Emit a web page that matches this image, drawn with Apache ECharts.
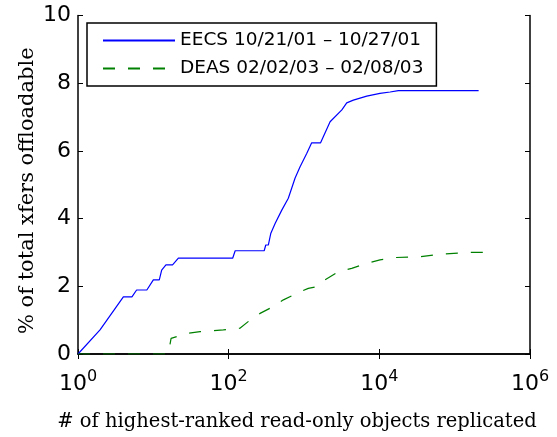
<!DOCTYPE html>
<html>
<head>
<meta charset="utf-8">
<script src="https://cdn.jsdelivr.net/npm/echarts@6/dist/echarts.min.js"></script>
<style>
  html, body { margin: 0; padding: 0; background: #fff; }
  #chart { width: 557px; height: 437px; }
</style>
</head>
<body>
<div id="chart"></div>
<script>
// EECS trace, objects replicated vs % of xfers offloadable
var eecsX = [1, 1.96, 4, 5.2, 6, 8.2, 10, 12, 12.9, 14.7, 18, 21.5, 113, 122, 296, 311, 336, 363, 415, 507, 619, 762, 887, 1090, 1265, 1660, 2220, 3180, 3690, 4520, 6800, 10200, 13900, 17900, 208000];
var eecsY = [0, 0.71, 1.69, 1.69, 1.89, 1.89, 2.19, 2.19, 2.48, 2.63, 2.63, 2.83, 2.83, 3.05, 3.05, 3.22, 3.22, 3.57, 3.86, 4.25, 4.6, 5.2, 5.53, 5.93, 6.24, 6.24, 6.86, 7.21, 7.42, 7.50, 7.62, 7.70, 7.74, 7.78, 7.78];

// DEAS trace
var deasX = [1, 10, 15.8, 17.2, 27.7, 41.7, 85, 141, 192, 261, 390, 533, 800, 1140, 1470, 1900, 2860, 4300, 6800, 10200, 16200, 34700, 58000, 145000, 347000];
var deasY = [0, 0, 0, 0.46, 0.61, 0.66, 0.71, 0.76, 1.0, 1.2, 1.4, 1.6, 1.79, 1.94, 1.99, 2.19, 2.43, 2.53, 2.68, 2.78, 2.85, 2.87, 2.94, 3.0, 3.0];

var seriesNames = ['EECS 10/21/01 \u2013 10/27/01', 'DEAS 02/02/03 \u2013 02/08/03'];

function zip(xs, ys) {
    return xs.map(function (x, i) { return [x, ys[i]]; });
}

var sans = 'DejaVu Sans';
var serif = 'DejaVu Serif';

var tickStyle = { inside: true, length: 5, lineStyle: { color: '#000', width: 1 } };
var lineStyle = { lineStyle: { color: '#000', width: 1.5 } };

var myChart = echarts.init(document.getElementById('chart'));
var option = {
    animation: false,
    backgroundColor: '#fff',
    grid: { left: 78, right: 27, top: 15.5, bottom: 83, outerBoundsMode: 'none', containLabel: false },
    legend: {
        orient: 'vertical',
        left: 87,
        top: 23,
        padding: [8, 13, 8, 15],
        itemGap: 9,
        itemWidth: 72,
        itemHeight: 14,
        borderColor: '#000',
        borderWidth: 1.5,
        borderRadius: 0,
        backgroundColor: '#fff',
        // hide the marker drawn on the legend line
        itemStyle: { opacity: 0 },
        textStyle: { fontFamily: sans, fontSize: 18.5, color: '#000' },
        data: seriesNames
    },
    xAxis: [
        {
            type: 'log',
            logBase: 10,
            min: 1,
            max: 1000000,
            interval: 2,
            name: '# of highest-ranked read-only objects replicated',
            nameLocation: 'middle',
            nameGap: 58,
            nameMoveOverlap: false,
            nameTextStyle: { fontFamily: serif, fontSize: 19.5, color: '#000', padding: [0, 14, 0, 0] },
            axisLine: lineStyle,
            axisTick: tickStyle,
            splitLine: { show: false },
            axisLabel: {
                margin: 15,
                formatter: function (v) {
                    return '{b|10}{s|' + Math.round(Math.log10(v)) + '}';
                },
                rich: {
                    b: { fontFamily: sans, fontSize: 22, color: '#000', verticalAlign: 'bottom' },
                    s: { fontFamily: sans, fontSize: 16, color: '#000', verticalAlign: 'bottom', padding: [0, 0, 10, 0] }
                }
            }
        },
        {
            type: 'log',
            logBase: 10,
            min: 1,
            max: 1000000,
            interval: 2,
            position: 'top',
            axisLine: lineStyle,
            axisTick: tickStyle,
            axisLabel: { show: false },
            splitLine: { show: false }
        }
    ],
    yAxis: [
        {
            type: 'value',
            min: 0,
            max: 10,
            interval: 2,
            name: '% of total xfers offloadable',
            nameLocation: 'middle',
            nameGap: 40,
            nameMoveOverlap: false,
            nameTextStyle: { fontFamily: serif, fontSize: 21, color: '#000', padding: [0, 12, 0, 0] },
            axisLine: { show: true, lineStyle: { color: '#000', width: 1.5 } },
            axisTick: { show: true, inside: true, length: 5, lineStyle: { color: '#000' } },
            splitLine: { show: false },
            axisLabel: { margin: 7, fontFamily: sans, fontSize: 22, color: '#000' }
        },
        {
            type: 'value',
            min: 0,
            max: 10,
            interval: 2,
            position: 'right',
            axisLine: { show: true, lineStyle: { color: '#000', width: 1.5 } },
            axisTick: { show: true, inside: true, length: 5, lineStyle: { color: '#000' } },
            axisLabel: { show: false },
            splitLine: { show: false }
        }
    ],
    series: [
        {
            name: seriesNames[0],
            type: 'line',
            symbol: 'none',
            data: zip(eecsX, eecsY),
            lineStyle: { color: '#0000ff', width: 1.2 },
            itemStyle: { color: '#0000ff' }
        },
        {
            name: seriesNames[1],
            type: 'line',
            symbol: 'none',
            data: zip(deasX, deasY),
            lineStyle: { color: '#008000', width: 1.2, type: [12, 13] },
            itemStyle: { color: '#008000' }
        }
    ]
};

myChart.setOption(option);
</script>
</body>
</html>
